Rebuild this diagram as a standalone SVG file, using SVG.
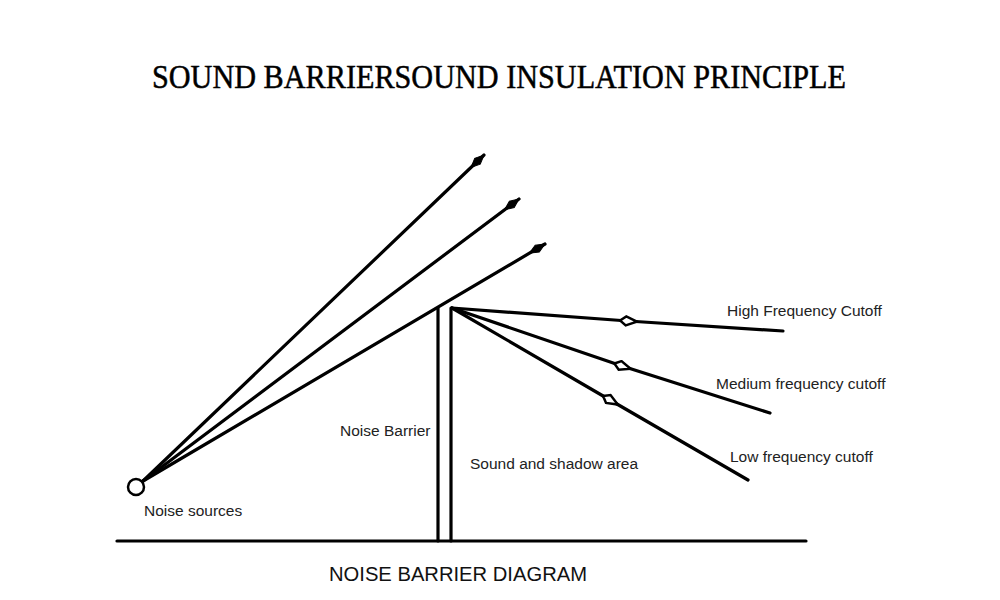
<svg xmlns="http://www.w3.org/2000/svg" width="1000" height="600" viewBox="0 0 1000 600">
<style>
.ln{stroke:#000;stroke-width:3.2;fill:none;stroke-linecap:round}
.lbl{font-family:"Liberation Sans",Arial,sans-serif;font-size:15.5px;fill:#222}
.title{font-family:"Liberation Serif","Times New Roman",serif;font-size:34px;fill:#000;stroke:#000;stroke-width:0.5}
</style>
<defs>
<marker id="tip" viewBox="-18 -6 22 12" refX="2" refY="0" markerWidth="22" markerHeight="12" markerUnits="userSpaceOnUse" orient="auto">
<path d="M-16 0 L-7 -4 L2 0 L-7 4 Z" fill="#000" stroke="#000" stroke-width="1"/>
</marker>
<marker id="mid" viewBox="-11 -6 22 12" refX="0" refY="0" markerWidth="22" markerHeight="12" markerUnits="userSpaceOnUse" orient="auto">
<path d="M-8 0 L-2 -4.5 L9 0 L-2 4.5 Z" fill="#fff" stroke="#000" stroke-width="2.5"/>
</marker>
</defs>
<rect width="1000" height="600" fill="#fff"/>
<text class="title" x="499" y="88" text-anchor="middle" textLength="694" lengthAdjust="spacingAndGlyphs">SOUND BARRIERSOUND INSULATION PRINCIPLE</text>
<g id="ground"><line class="ln" x1="117" y1="541" x2="806" y2="541"/></g>
<g id="barrier">
<line class="ln" x1="438" y1="308" x2="438" y2="541"/>
<line class="ln" x1="451" y1="308" x2="451" y2="541"/>
<text class="lbl" x="340" y="436">Noise Barrier</text>
</g>
<g id="source">
<circle cx="136" cy="487" r="8" fill="none" stroke="#000" stroke-width="2.5"/>
<text class="lbl" x="144" y="516">Noise sources</text>
</g>
<g id="connectors">
<line class="ln" x1="143" y1="481" x2="484" y2="155" marker-end="url(#tip)"/>
<line class="ln" x1="143" y1="481" x2="519" y2="199" marker-end="url(#tip)"/>
<line class="ln" x1="143" y1="481" x2="545" y2="244" marker-end="url(#tip)"/>
<path class="ln" d="M452 308 L628 321 L783 331" marker-mid="url(#mid)"/>
<path class="ln" d="M452 308 L622 366 L770 413" marker-mid="url(#mid)"/>
<path class="ln" d="M452 308 L610 400 L748 480" marker-mid="url(#mid)"/>
</g>
<g id="shadow"><text class="lbl" x="470" y="469">Sound and shadow area</text></g>
<g id="high"><text class="lbl" x="727" y="316">High Frequency Cutoff</text></g>
<g id="medium"><text class="lbl" x="716" y="389">Medium frequency cutoff</text></g>
<g id="low"><text class="lbl" x="730" y="462">Low frequency cutoff</text></g>
<text x="458" y="581" text-anchor="middle" font-family="Liberation Sans,Arial,sans-serif" font-size="20" fill="#111" textLength="258" lengthAdjust="spacingAndGlyphs">NOISE BARRIER DIAGRAM</text>
</svg>
